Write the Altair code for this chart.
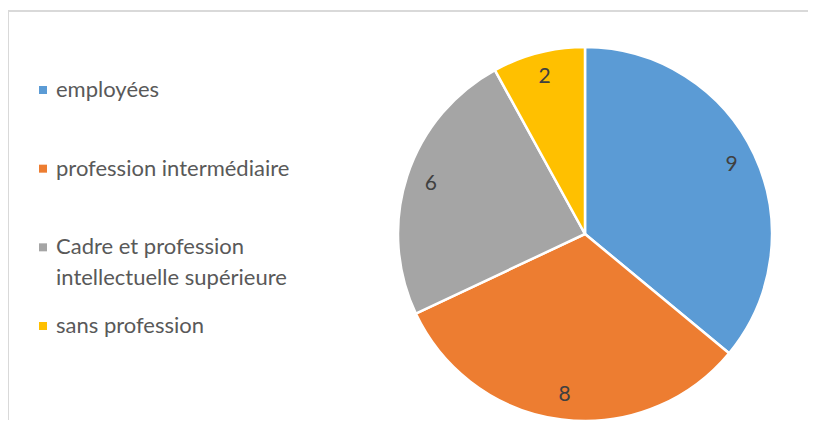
import altair as alt
import pandas as pd

categories = [
    "employées",
    "profession intermédiaire",
    "Cadre et profession intellectuelle supérieure",
    "sans profession",
]
legend_labels = [
    "employées",
    "profession intermédiaire",
    "Cadre et profession\nintellectuelle supérieure",
    "sans profession",
]
values = [9, 8, 6, 2]
colors = ["#5B9BD5", "#ED7D31", "#A5A5A5", "#FFC000"]

df = pd.DataFrame({
    "categorie": categories,
    "libelle": legend_labels,
    "valeur": values,
    "ordre": list(range(len(values))),
})

FONT = "Lato"
CX, CY, R = 577, 226, 187

color_enc = alt.Color(
    "categorie:N",
    scale=alt.Scale(domain=categories, range=colors),
    sort=categories,
    legend=None,
)

theta = alt.Theta("valeur:Q", stack=True)
order = alt.Order("ordre:Q")

arcs = alt.Chart(df).mark_arc(outerRadius=R, stroke="white", strokeWidth=2.5).encode(
    theta=theta, order=order, color=color_enc, x=alt.value(CX), y=alt.value(CY)
)

labels = alt.Chart(df).mark_text(radius=162, font=FONT, fontSize=21, color="#404040").encode(
    theta=theta, order=order, text="valeur:Q", x=alt.value(CX), y=alt.value(CY)
)

leg_y = alt.Y("categorie:N", sort=categories, axis=None,
              scale=alt.Scale(type="point", range=[82, 318], padding=0))

leg_sq = alt.Chart(df).mark_square(size=64, opacity=1, strokeWidth=0).encode(
    x=alt.value(35), y=leg_y, color=color_enc
)
leg_txt = alt.Chart(df).mark_text(
    align="left", baseline="middle", font=FONT, fontSize=22, color="#595959",
    lineBreak="\n", lineHeight=31
).encode(x=alt.value(48), y=leg_y, text="libelle:N")

frame = pd.DataFrame({"k": [0]})
border_v = alt.Chart(frame).mark_rule(color="#d9d9d9", strokeWidth=2).encode(
    x=alt.value(0), y=alt.value(3), y2=alt.value(412)
)
border_h = alt.Chart(frame).mark_rule(color="#d9d9d9", strokeWidth=2).encode(
    x=alt.value(0), x2=alt.value(800), y=alt.value(3)
)

chart = alt.layer(border_v, border_h, arcs, labels, leg_sq, leg_txt).properties(
    width=800, height=412, autosize=alt.AutoSizeParams(type="none"), padding=0
).configure_view(stroke=None)

chart.save("out.html", embed_options={"renderer": "svg", "actions": False})
